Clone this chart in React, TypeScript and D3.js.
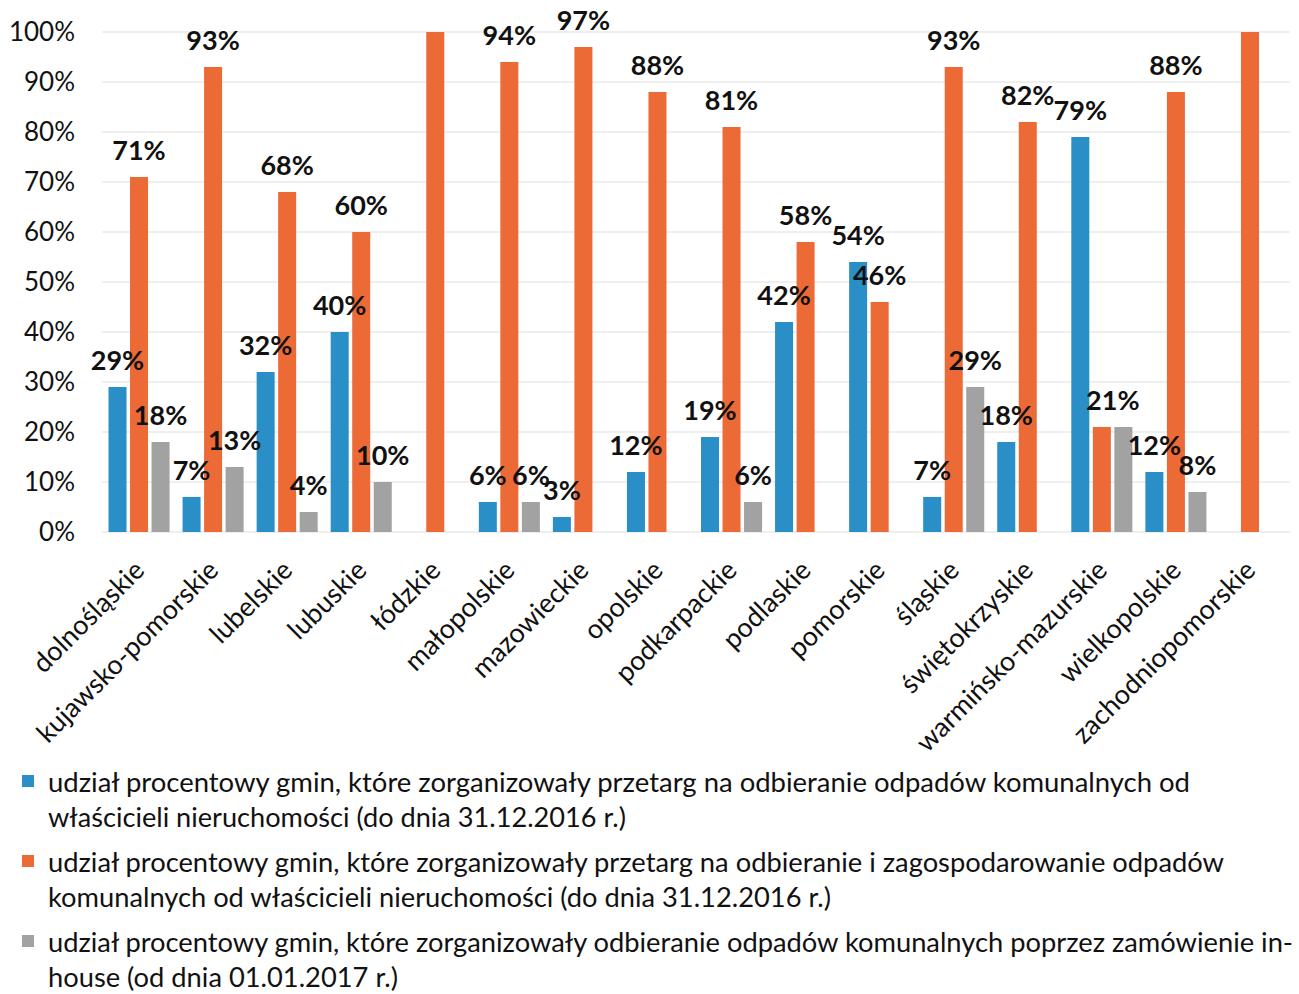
import React from "react";
import * as d3 from "d3";

const categories = [
  "dolnośląskie", "kujawsko-pomorskie", "lubelskie", "lubuskie", "łódzkie",
  "małopolskie", "mazowieckie", "opolskie", "podkarpackie", "podlaskie",
  "pomorskie", "śląskie", "świętokrzyskie", "warmińsko-mazurskie",
  "wielkopolskie", "zachodniopomorskie",
];

const przetargOdbieranie = [29, 7, 32, 40, 0, 6, 3, 12, 19, 42, 54, 7, 18, 79, 12, 0];
const przetargOdbieranieZagosp = [71, 93, 68, 60, 100, 94, 97, 88, 81, 58, 46, 93, 82, 21, 88, 100];
const inHouse = [18, 13, 4, 10, 0, 6, 0, 0, 6, 0, 0, 29, 0, 21, 8, 0];

const yTicks = [0, 10, 20, 30, 40, 50, 60, 70, 80, 90, 100];

const seriesKeys = ["blue", "orange", "gray"];
const seriesColors = ["#2B8FC7", "#EC6A36", "#A2A2A2"];

const legendLines = [
  ["udział procentowy gmin, które zorganizowały przetarg na odbieranie odpadów komunalnych od",
   "właścicieli nieruchomości (do dnia 31.12.2016 r.)"],
  ["udział procentowy gmin, które zorganizowały przetarg na odbieranie i zagospodarowanie odpadów",
   "komunalnych od właścicieli nieruchomości (do dnia 31.12.2016 r.)"],
  ["udział procentowy gmin, które zorganizowały odbieranie odpadów komunalnych poprzez zamówienie in-",
   "house (od dnia 01.01.2017 r.)"],
];
const legendWidths = [[1142, 578], [1176, 783], [1245, 350]];

// labels hidden in the original (100% bars; merged 21% pair)
const hiddenLabels = new Set(["łódzkie|orange", "zachodniopomorskie|orange", "warmińsko-mazurskie|gray"]);
const labelShift: Record<string, number> = { "warmińsko-mazurskie|orange": 11 };

const W = 1299;
const H = 994;
const plotLeft = 102;
const plotRight = 1287;
const plotTop = 32;
const plotBottom = 532;

export default function App() {
  const x0 = d3.scaleBand<string>().domain(categories).range([plotLeft, plotRight]).paddingInner(0).paddingOuter(0);
  const x1 = d3.scaleBand<string>().domain(seriesKeys).range([0, x0.bandwidth()]).paddingInner(0.163).paddingOuter(0.302);
  const y = d3.scaleLinear().domain([0, 100]).range([plotBottom, plotTop]);

  const seriesValues = [przetargOdbieranie, przetargOdbieranieZagosp, inHouse];

  const bars: { key: string; cat: string; s: string; v: number; color: string }[] = [];
  categories.forEach((cat, i) => {
    seriesKeys.forEach((s, j) => {
      bars.push({ key: `${cat}|${s}`, cat, s, v: seriesValues[j][i], color: seriesColors[j] });
    });
  });

  const font = "Lato, 'Open Sans', sans-serif";

  return (
    <svg width={W} height={H} style={{ position: "absolute", left: 0, top: 0, background: "#fff" }} fontFamily={font}>
      {/* gridlines */}
      {yTicks.map((t) => (
        <line key={`g${t}`} x1={plotLeft} x2={plotRight + 3} y1={y(t)} y2={y(t)} stroke="#E0E0E0" strokeWidth={1.2} />
      ))}
      {/* y tick labels */}
      {yTicks.map((t) => (
        <text key={`t${t}`} x={75} y={y(t)} dy="0.36em" textAnchor="end" fontSize={26} fill="#111">
          {`${t}%`}
        </text>
      ))}
      {/* bars */}
      {bars.filter((b) => b.v > 0).map((b) => (
        <rect key={b.key} x={(x0(b.cat) as number) + (x1(b.s) as number)} y={y(b.v)} width={x1.bandwidth()} height={y(0) - y(b.v)} fill={b.color} />
      ))}
      {/* data labels */}
      {bars.filter((b) => b.v > 0 && !hiddenLabels.has(b.key)).map((b) => (
        <text
          key={`l${b.key}`}
          x={(x0(b.cat) as number) + (x1(b.s) as number) + x1.bandwidth() / 2 + (labelShift[b.key] || 0)}
          y={y(b.v) - 17}
          textAnchor="middle"
          fontSize={27}
          fontWeight="bold"
          fill="#111"
        >
          {`${b.v}%`}
        </text>
      ))}
      {/* x axis labels */}
      {categories.map((c) => {
        const cx = (x0(c) as number) + x0.bandwidth() / 2 + 7;
        const cy = 572;
        return (
          <text key={`x${c}`} x={cx} y={cy} textAnchor="end" fontSize={27} fill="#111" transform={`rotate(-45, ${cx}, ${cy})`}>
            {c}
          </text>
        );
      })}
      {/* legend */}
      {legendLines.map((lines, i) => {
        const top = 792 + i * 80;
        return (
          <g key={`leg${i}`}>
            <rect x={22} y={top - 17} width={12} height={12} fill={seriesColors[i]} />
            {lines.map((ln, k) => (
              <text key={k} x={48} y={top + k * 35} fontSize={27} fill="#111" textLength={legendWidths[i][k]} lengthAdjust="spacingAndGlyphs">
                {ln}
              </text>
            ))}
          </g>
        );
      })}
    </svg>
  );
}
